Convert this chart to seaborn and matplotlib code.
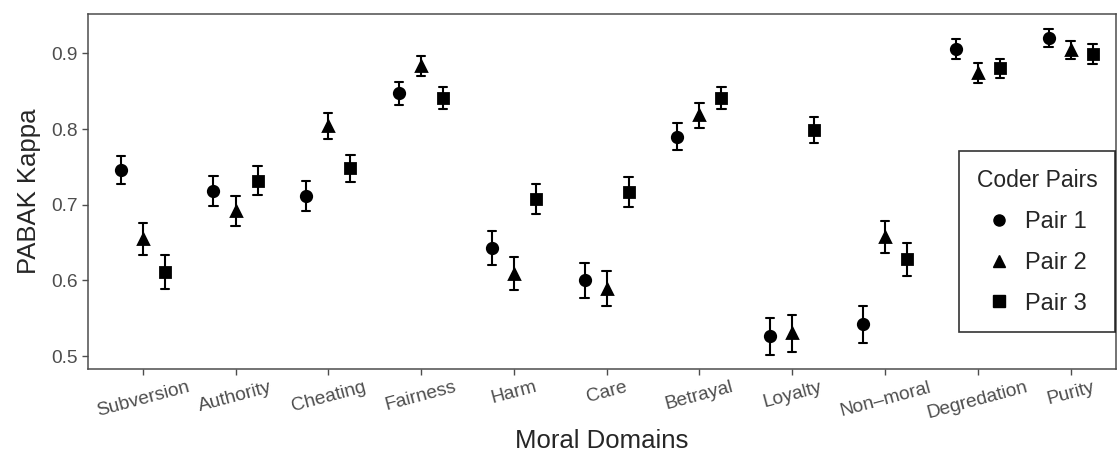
import numpy as np
import pandas as pd
import matplotlib
matplotlib.use("Agg")
import matplotlib.pyplot as plt
import seaborn as sns
from matplotlib.lines import Line2D

domains = ["Subversion", "Authority", "Cheating", "Fairness", "Harm", "Care",
           "Betrayal", "Loyalty", "Non\u2013moral", "Degredation", "Purity"]
pairs = ["Pair 1", "Pair 2", "Pair 3"]

pair1 = [0.746, 0.718, 0.712, 0.847, 0.643, 0.600, 0.790, 0.526, 0.542, 0.906, 0.920]
pair2 = [0.655, 0.692, 0.804, 0.883, 0.609, 0.589, 0.818, 0.530, 0.657, 0.874, 0.904]
pair3 = [0.611, 0.732, 0.748, 0.841, 0.708, 0.717, 0.841, 0.799, 0.628, 0.880, 0.899]

err1 = [0.019, 0.020, 0.020, 0.015, 0.022, 0.023, 0.018, 0.024, 0.024, 0.013, 0.012]
err2 = [0.021, 0.020, 0.017, 0.013, 0.022, 0.023, 0.017, 0.024, 0.021, 0.013, 0.012]
err3 = [0.022, 0.019, 0.018, 0.015, 0.020, 0.020, 0.015, 0.017, 0.022, 0.013, 0.013]

yticks = [0.5, 0.6, 0.7, 0.8, 0.9]

# long table: low / centre / high per point -> median estimator + full-range interval
rows = []
for pname, vals, errs in zip(pairs, [pair1, pair2, pair3], [err1, err2, err3]):
    for d, v, e in zip(domains, vals, errs):
        for k in (-1, 0, 1):
            rows.append({"Domain": d, "Pair": pname, "Kappa": v + k * e})
df = pd.DataFrame(rows)

sns.set_style("white")
plt.rcParams["font.family"] = ["Liberation Sans", "DejaVu Sans"]

fig = plt.figure(figsize=(11.18, 4.55), dpi=100)
ax = fig.add_axes([88 / 1118, 86 / 455, 1028 / 1118, 355 / 455])

sns.pointplot(data=df, x="Domain", y="Kappa", hue="Pair", order=domains,
              hue_order=pairs, estimator="median", errorbar=("pi", 100),
              dodge=0.475, markers=["o", "^", "s"], linestyles="none",
              palette=["black", "black", "black"], capsize=0.09,
              err_kws={"linewidth": 1.5}, markersize=7.5, ax=ax)

ax.set_xlim(-0.59, 10.49)
ax.set_ylim(0.483, 0.952)
ax.set_yticks(yticks)
ax.set_yticklabels([f"{t:.1f}" for t in yticks])
ax.tick_params(axis="both", colors="#4D4D4D", labelsize=13.8, length=4, width=1,
               direction="out", bottom=True, left=True)
ax.tick_params(axis="x", pad=3)
for lab in ax.get_xticklabels():
    lab.set_rotation(15)
    lab.set_ha("center")
for sp in ax.spines.values():
    sp.set_color("#4D4D4D")
    sp.set_linewidth(1.1)

ax.set_xlabel("Moral Domains", fontsize=18.5, labelpad=5)
ax.set_ylabel("PABAK Kappa", fontsize=18.5, labelpad=7)

if ax.get_legend() is not None:
    ax.get_legend().remove()
mk = ["o", "^", "s"]
handles = [Line2D([], [], marker=m, color="black", linestyle="none", markersize=8) for m in mk]
leg = ax.legend(handles, pairs, title="Coder Pairs", loc="center right",
                bbox_to_anchor=(0.999, 0.358), borderaxespad=0, frameon=True,
                fancybox=False, fontsize=17, title_fontsize=16.5,
                labelspacing=0.8, handletextpad=0.6, borderpad=0.75,
                handlelength=1.0)
leg.get_frame().set_edgecolor("black")
leg.get_frame().set_linewidth(1.2)

fig.savefig("out.png", dpi=100)
